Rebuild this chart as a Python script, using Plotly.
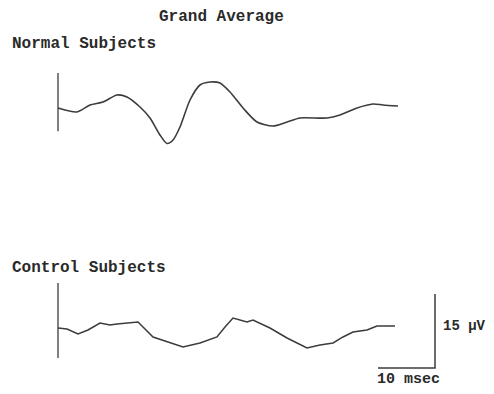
import plotly.graph_objects as go

# time (msec) and amplitude (µV)
normal_t = [0, 3.33, 5.61, 7.89, 10.35, 12.1, 14.39, 16.14, 17.89, 19.12, 20.18, 21.4, 23.16,
            24.91, 26.67, 28.42, 30.18, 32.46, 34.91, 37.72, 40.18, 42.46, 47.19, 49.47,
            52.46, 55.26, 57.02, 59.65]
normal_v = [0, -0.81, 0.61, 1.22, 2.64, 2.23, 0.20, -2.03, -5.47, -7.20, -6.49, -3.85, 1.62,
            4.66, 5.27, 5.07, 3.24, 0, -2.84, -3.65, -2.84, -2.03, -2.03, -1.42,
            0, 0.81, 0.61, 0.41]

control_t = [0, 1.58, 3.51, 5.26, 7.37, 9.12, 10.35, 14.04, 16.67, 19.65, 21.93, 24.91, 27.89,
             29.3, 30.7, 33.16, 34.21, 37.19, 40.18, 43.68, 45.96, 48.25, 50.0, 51.75,
             54.21, 55.96, 59.12]
control_v = [0, -0.2, -1.22, -0.41, 1.01, 0.61, 0.81, 1.22, -1.82, -3.04, -3.85, -3.04, -1.82,
             0.2, 2.03, 1.22, 1.62, 0, -2.03, -4.05, -3.45, -3.04, -1.82, -0.81,
             -0.41, 0.41, 0.41]

# stimulus markers (µV extent) and calibration bar
normal_marker_v = [7.1, -4.7]
control_marker_v = [9.1, -6.1]
scale_ms = 10
scale_uv = 15
scale_x_end = 66.14
scale_y_bottom = -8.11

title = "Grand Average"
label_normal = "Normal Subjects"
label_control = "Control Subjects"
label_uv = "15 µV"
label_ms = "10 msec"

W, H = 494, 394
px_per_ms = 5.7
px_per_uv = 74 / 15
x0_px = 58
base1_px = 108
base2_px = 328

line_col = "#3c3c3c"
fig = go.Figure()
fig.add_trace(go.Scatter(x=normal_t, y=normal_v, mode="lines",
                         line=dict(color=line_col, width=1.6, shape="spline", smoothing=0.7),
                         yaxis="y"))
fig.add_trace(go.Scatter(x=[0, 0], y=normal_marker_v, mode="lines",
                         line=dict(color=line_col, width=1.3), yaxis="y"))
fig.add_trace(go.Scatter(x=control_t, y=control_v, mode="lines",
                         line=dict(color=line_col, width=1.5), yaxis="y2"))
fig.add_trace(go.Scatter(x=[0, 0], y=control_marker_v, mode="lines",
                         line=dict(color=line_col, width=1.3), yaxis="y2"))
fig.add_trace(go.Scatter(x=[scale_x_end - scale_ms, scale_x_end, scale_x_end],
                         y=[scale_y_bottom, scale_y_bottom, scale_y_bottom + scale_uv],
                         mode="lines", line=dict(color=line_col, width=1.5), yaxis="y2"))

xr = [-x0_px / px_per_ms, (W - x0_px) / px_per_ms]
y1r = [-(H - base1_px) / px_per_uv, base1_px / px_per_uv]
y2r = [-(H - base2_px) / px_per_uv, base2_px / px_per_uv]

ax = dict(visible=False, showgrid=False, zeroline=False, fixedrange=True)
fig.update_layout(
    width=W, height=H, margin=dict(l=0, r=0, t=0, b=0),
    paper_bgcolor="white", plot_bgcolor="white", showlegend=False,
    xaxis=dict(range=xr, **ax),
    yaxis=dict(range=y1r, **ax),
    yaxis2=dict(range=y2r, overlaying="y", **ax),
)

def ann(text, px, py, xanchor="left", size=16):
    fig.add_annotation(text="<b>" + text + "</b>", xref="paper", yref="paper",
                       x=px / W, y=1 - py / H, xanchor=xanchor, yanchor="middle",
                       showarrow=False,
                       font=dict(family="Liberation Mono, Courier New, monospace",
                                 size=size, color="#2a2a2a"))

ann(title, 221, 17, "center")
ann(label_normal, 10, 44)
ann(label_control, 10, 268)
ann(label_uv, 441, 326, size=14)
ann(label_ms, 375, 379, size=15)

fig.write_html("out.html")
